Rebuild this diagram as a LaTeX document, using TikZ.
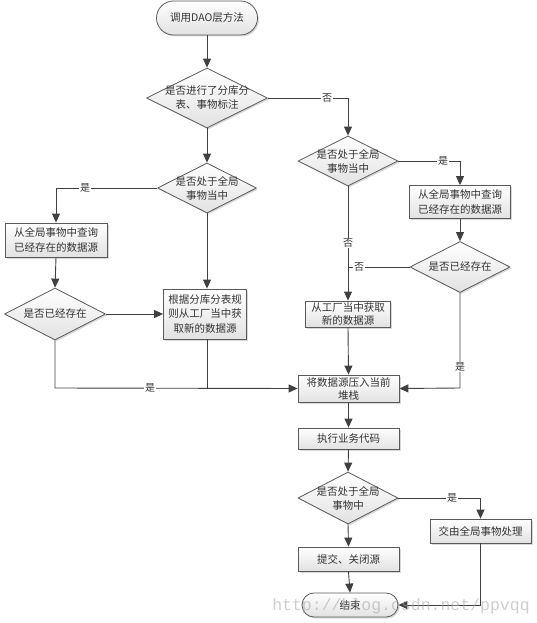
\documentclass[tikz,border=0pt]{standalone}
\usepackage{fontspec}
\newfontfamily\cjk{Noto Sans CJK SC}
\setmonofont{Liberation Mono}
\usetikzlibrary{shapes.geometric,arrows.meta,shadows}
\definecolor{lineC}{HTML}{404040}
\definecolor{borderC}{HTML}{5A5A5A}
\definecolor{shadeC}{HTML}{E2E2E2}
\definecolor{txtC}{HTML}{333333}
\tikzset{
  base/.style={draw=borderC, line width=0.8pt, top color=white, bottom color=shadeC,
    drop shadow={shadow xshift=1.5pt, shadow yshift=-1.5pt, fill=gray!60}},
  boxn/.style={base, rectangle, inner sep=0pt, align=center, font=\cjk\fontsize{10.5}{15}\selectfont, text=txtC},
  termn/.style={base, rectangle, rounded corners=12pt, inner sep=0pt, align=center, font=\cjk\fontsize{10.5}{15}\selectfont, text=txtC},
  dian/.style={base, diamond, inner sep=0pt},
  diatext/.style={align=center, inner sep=0pt, font=\cjk\fontsize{10.5}{14}\selectfont, text=txtC},
  arr/.style={draw=lineC, line width=0.9pt, -{Triangle[length=9pt,width=8pt]}},
  ln/.style={draw=lineC, line width=0.9pt},
  lab/.style={fill=white, inner sep=1pt, font=\cjk\fontsize{10}{12}\selectfont, text=txtC}
}
\begin{document}
\begin{tikzpicture}[x=1pt,y=-1pt]
\useasboundingbox (0,0) rectangle (537,623);
% nodes
\node[termn, minimum width=101pt, minimum height=34pt, rounded corners=17pt] (start) at (207,18) {调用DAO层方法};
\node[dian, minimum width=121pt, minimum height=60pt] (d1) at (207,98) {};
\node[diatext] (d1t) at (d1) {是否进行了分库分\\表、事物标注};
\node[dian, minimum width=99pt, minimum height=50pt] (d2) at (207,188) {};
\node[diatext] (d2t) at (d2) {是否处于全局\\事物当中};
\node[boxn, minimum width=102pt, minimum height=34pt] (b1) at (56,240) {从全局事物中查询\\已经存在的数据源};
\node[dian, minimum width=101pt, minimum height=52pt] (d3) at (55,314) {};
\node[diatext] (d3t) at (d3) {是否已经存在};
\node[boxn, minimum width=83pt, minimum height=50pt, font=\cjk\fontsize{10.5}{14.5}\selectfont] (b2) at (205,314) {根据分库分表规\\则从工厂当中获\\取新的数据源};
\node[dian, minimum width=100pt, minimum height=50pt] (d2r) at (348,161) {};
\node[diatext] (d2rt) at (d2r) {是否处于全局\\事物当中};
\node[boxn, minimum width=101pt, minimum height=33pt] (b3) at (460,202) {从全局事物中查询\\已经存在的数据源};
\node[dian, minimum width=100pt, minimum height=51pt] (d3r) at (460,267) {};
\node[diatext] (d3rt) at (d3r) {是否已经存在};
\node[boxn, minimum width=85pt, minimum height=26pt, font=\cjk\fontsize{10.5}{13}\selectfont] (b4) at (348,314) {从工厂当中获取\\新的数据源};
\node[boxn, minimum width=101pt, minimum height=27pt, font=\cjk\fontsize{10.5}{13}\selectfont] (push) at (348.5,388.5) {将数据源压入当前\\堆栈};
\node[boxn, minimum width=101pt, minimum height=21pt] (exec) at (348.5,438.5) {执行业务代码};
\node[dian, minimum width=100pt, minimum height=52pt] (d4) at (348,498) {};
\node[diatext] (d4t) at (d4) {是否处于全局\\事物中};
\node[boxn, minimum width=101pt, minimum height=24pt] (b5) at (480.5,531) {交由全局事物处理};
\node[boxn, minimum width=101pt, minimum height=24pt] (commit) at (348.5,559) {提交、关闭源};
\node[termn, minimum width=96pt, minimum height=24pt] (end) at (350,605) {结束};
% coordinates
\coordinate (c1) at (55,388);
\coordinate (c2) at (460,388);
\coordinate (c3) at (348,267);
% connectors
\draw[arr] (start) -- (d1.north);
\draw[arr] (d1.east) -| (d2r.north);
\draw[arr] (d1.south) -- (d2.north);
\draw[arr] (d2.west) -| (b1.north);
\draw[arr] (b1.south) -- (d3.north);
\draw[arr] (d3.east) -- (b2.west);
\draw[arr] (d2.south) -- (d2.south |- b2.north);
\draw[arr] (d3.south) -- (c1) -- (push.west);
\draw[ln] (b2.south -| d2.south) -- (d2.south |- push.west);
\draw[arr] (d2r.south) -- (b4.north);
\draw[arr] (d2r.east) -| (b3.north);
\draw[arr] (b3.south) -- (d3r.north);
\draw[ln] (d3r.west) -- (c3);
\draw[arr] (b4.south) -- (push.north);
\draw[arr] (d3r.south) -- (c2) -- (push.east);
\draw[arr] (push.south) -- (exec.north);
\draw[arr] (exec.south) -- (d4.north);
\draw[arr] (d4.east) -| (b5.north);
\draw[arr] (d4.south) -- (commit.north);
\draw[arr] (commit.south) -- (end.north);
\draw[arr] (b5.south) |- (end.east);
% labels
\node[lab] (l1) at (327,98) {否};
\node[lab] (l2) at (85,188) {是};
\node[lab] (l3) at (150,388) {是};
\node[lab] (l4) at (348,243) {否};
\node[lab] (l5) at (443,161) {是};
\node[lab] (l6) at (359,267) {否};
\node[lab] (l7) at (460,367) {是};
\node[lab] (l8) at (452,498) {是};
% watermark
\node[text=gray!70, opacity=0.55, font=\ttfamily\fontsize{16.5}{18}\selectfont, inner sep=0pt] (wm) at (401,606) {http://blog.csdn.net/ppvqq};
\end{tikzpicture}
\end{document}
